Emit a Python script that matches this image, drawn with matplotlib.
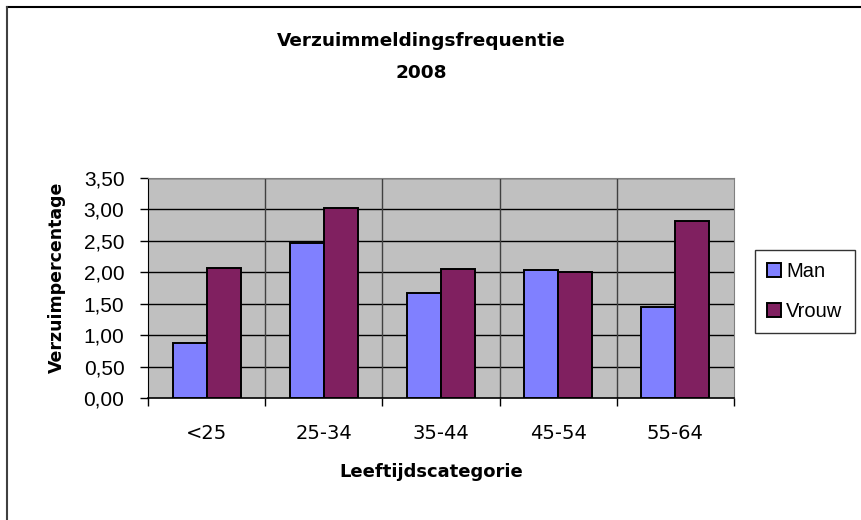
import matplotlib

matplotlib.use("Agg")
import matplotlib.pyplot as plt
from matplotlib.lines import Line2D
import numpy as np

categories = ["<25", "25-34", "35-44", "45-54", "55-64"]
man = [0.88, 2.47, 1.67, 2.03, 1.45]
vrouw = [2.07, 3.02, 2.05, 2.01, 2.82]
yticks = [0.0, 0.5, 1.0, 1.5, 2.0, 2.5, 3.0, 3.5]

MAN_COLOR = "#8080FF"
VROUW_COLOR = "#802060"
BG = "#C0C0C0"

W, H = 861, 520
fig = plt.figure(figsize=(W / 100, H / 100), dpi=100)
fig.patch.set_facecolor("white")
ax = fig.add_axes([148 / W, 1 - 398 / H, 586 / W, 220 / H])
ax.set_facecolor(BG)

x = np.arange(len(categories))
w = 0.29
ax.bar(x - w / 2, man, w, color=MAN_COLOR, edgecolor="black", linewidth=1.4,
       label="Man", zorder=3)
ax.bar(x + w / 2, vrouw, w, color=VROUW_COLOR, edgecolor="black", linewidth=1.4,
       label="Vrouw", zorder=3)

# horizontale gridlijnen
for t in yticks[1:]:
    ax.axhline(t, color="black", linewidth=1.0, zorder=1)
# verticale scheidingen tussen categorieën
for b in np.arange(0.5, len(categories) - 1, 1.0):
    ax.axvline(b, color="#404040", linewidth=1.0, zorder=1)

ax.set_xlim(-0.5, len(categories) - 0.5)
ax.set_ylim(0, 3.5)

ax.set_yticks(yticks)
ax.set_yticklabels([f"{t:.2f}".replace(".", ",") for t in yticks],
                   fontsize=15, family="Liberation Sans")
ax.tick_params(axis="y", direction="out", length=6, width=1, pad=11)

# x-ticks op de grenzen, labels in het midden
ax.set_xticks(np.arange(-0.5, len(categories), 1.0))
ax.set_xticklabels([])
ax.set_xticks(x, minor=True)
ax.set_xticklabels(categories, minor=True, fontsize=14, family="DejaVu Sans")
ax.tick_params(axis="x", which="major", direction="out", length=6, width=1)
ax.tick_params(axis="x", which="minor", length=0, pad=19)

for s in ["top", "right"]:
    ax.spines[s].set_color("#808080")
ax.spines["left"].set_color("black")
ax.spines["bottom"].set_color("black")
ax.spines["bottom"].set_linewidth(1.2)

fig.text(431 / W, 1 - 472 / H, "Leeftijdscategorie", ha="center", va="center",
         fontsize=13, fontweight="bold")
fig.text(57 / W, 1 - 277 / H, "Verzuimpercentage", ha="center", va="center",
         rotation=90, fontsize=12.5, fontweight="bold")

fig.text(421 / W, 1 - 41 / H, "Verzuimmeldingsfrequentie", ha="center",
         va="center", fontsize=13.3, fontweight="bold")
fig.text(421 / W, 1 - 72.5 / H, "2008", ha="center", va="center",
         fontsize=13.3, fontweight="bold")

leg = fig.legend(loc="upper left", bbox_to_anchor=(755 / W, 1 - 250 / H),
                 prop={"family": "Liberation Sans", "size": 14.5},
                 frameon=True, fancybox=False, edgecolor="black",
                 handlelength=0.7, handleheight=0.7, handletextpad=0.25,
                 labelspacing=1.05, borderpad=0.6, borderaxespad=0)
leg.get_frame().set_linewidth(1.0)

# kader rond de grafiek (alleen boven en links zichtbaar)
fig.add_artist(Line2D([7 / W, 1], [1 - 7 / H, 1 - 7 / H], color="black",
                      linewidth=1.5, transform=fig.transFigure))
fig.add_artist(Line2D([7 / W, 7 / W], [0, 1 - 7 / H], color="#404040",
                      linewidth=1.5, transform=fig.transFigure))

fig.savefig("out.png", dpi=100)
